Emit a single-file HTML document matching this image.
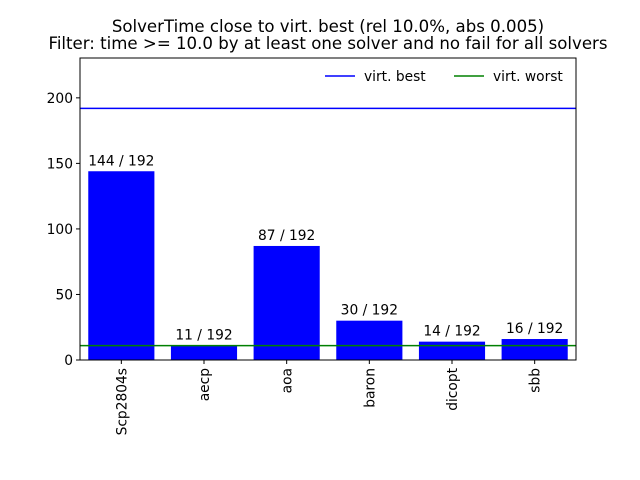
<!DOCTYPE html>
<html><head><meta charset="utf-8"><style>
body{margin:0;background:#fff;}
svg{display:block;font-family:"DejaVu Sans","Liberation Sans",sans-serif;}
</style></head><body>
<svg id="chart" width="640" height="480" xmlns="http://www.w3.org/2000/svg">
<rect width="640" height="480" fill="#fff"/>
<text x="328" y="32" font-size="16.6" text-anchor="middle">SolverTime close to virt. best (rel 10.0%, abs 0.005)</text>
<text x="328" y="49" font-size="16.6" text-anchor="middle">Filter: time &gt;= 10.0 by at least one solver and no fail for all solvers</text>
<g id="plot"></g>
</svg>
<script>
const categories = ["Scp2804s","aecp","aoa","baron","dicopt","sbb"];
const values = [144,11,87,30,14,16];
const total = 192;
const virtBest = 192;
const virtWorst = 11;
const yTicks = [0,50,100,150,200];

const L=80,R=576,T=58,B=360;
const yMax = total*1.2;
const sy = v => B - v*(B-T)/yMax;
const step = (R-L)/categories.length;
const sx = i => L + step*(i+0.5);
const NS="http://www.w3.org/2000/svg";
const g=document.getElementById('plot');
function mk(tag,attrs,text){const e=document.createElementNS(NS,tag);for(const k in attrs)e.setAttribute(k,attrs[k]);if(text!==undefined)e.textContent=text;g.appendChild(e);return e;}

categories.forEach((c,i)=>{
  const bw=step*0.8, x=sx(i)-bw/2, y=sy(values[i]);
  const r=mk('rect',{x:x,y:y,width:bw,height:B-y,fill:'#0000ff'});
  
  
  const t=mk('text',{x:sx(i),y:y-6,'font-size':13.8,'text-anchor':'middle'},values[i]+' / '+total);
  
  
  const tk=mk('line',{x1:sx(i),x2:sx(i),y1:B,y2:B+4,stroke:'#000'});
  
  
  const xl=mk('text',{transform:`translate(${sx(i)+5},${B+8}) rotate(-90)`,'font-size':13.8,'text-anchor':'end'},c);
  
  
});
yTicks.forEach(v=>{
  const tk=mk('line',{x1:L-4,x2:L,y1:sy(v),y2:sy(v),stroke:'#000'});
  
  
  const tl=mk('text',{x:L-7,y:sy(v)+5,'font-size':13.8,'text-anchor':'end'},v);
  
  
});
const lb=mk('line',{x1:L,x2:R,y1:sy(virtBest),y2:sy(virtBest),stroke:'#0000ff','stroke-width':1.5});


const lw=mk('line',{x1:L,x2:R,y1:sy(virtWorst),y2:sy(virtWorst),stroke:'#008000','stroke-width':1.5});


const fr=mk('rect',{x:L,y:T,width:R-L,height:B-T,fill:'none',stroke:'#000','stroke-width':1});


const l1=mk('line',{x1:325,x2:355,y1:76,y2:76,stroke:'#0000ff','stroke-width':1.5});


const t1=mk('text',{x:364,y:81,'font-size':13.8},'virt. best');


const l2=mk('line',{x1:454,x2:484,y1:76,y2:76,stroke:'#008000','stroke-width':1.5});


const t2=mk('text',{x:493,y:81,'font-size':13.8},'virt. worst');


</script>
</body></html>
